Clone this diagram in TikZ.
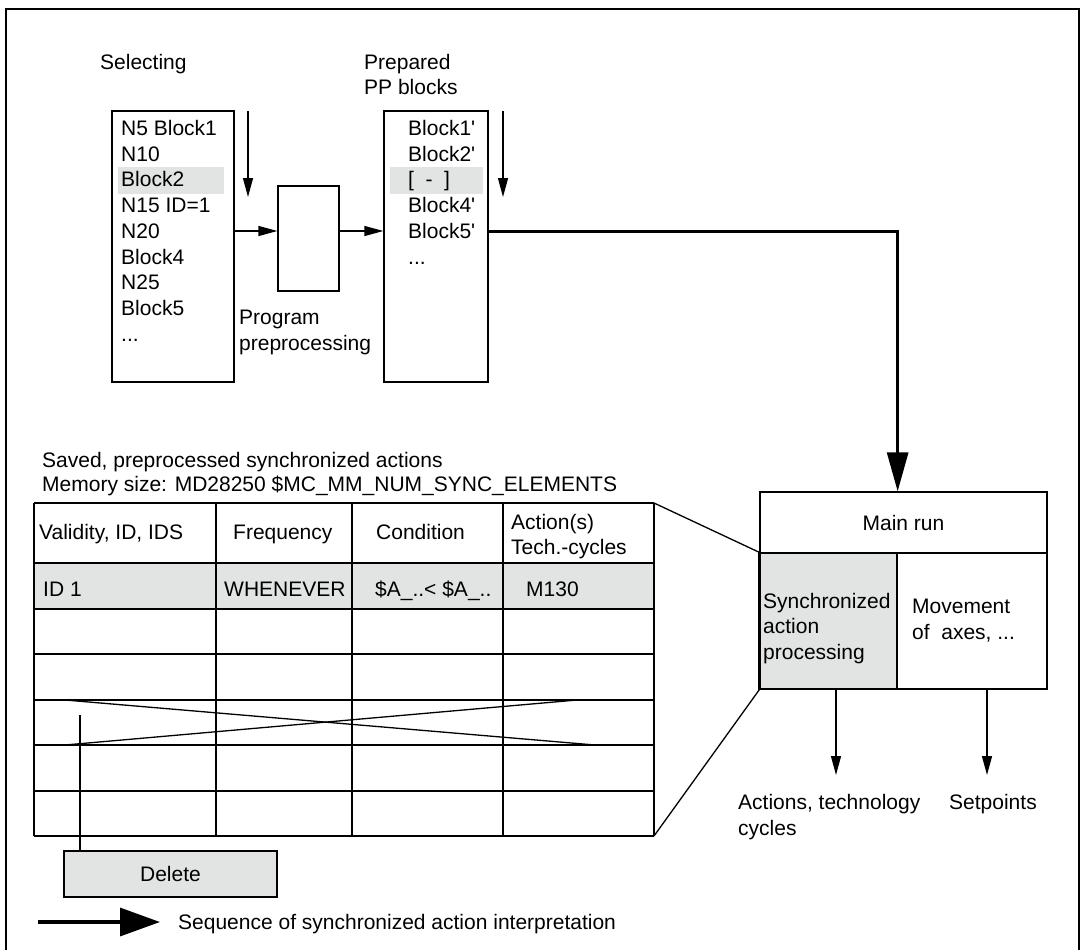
\documentclass[tikz,border=0pt]{standalone}
\usepackage{fontspec}
\setmainfont{Liberation Sans}
\usetikzlibrary{arrows.meta}

\definecolor{cellgray}{RGB}{225,228,227}

\begin{document}
\begin{tikzpicture}[x=1pt, y=-1pt,
    every node/.style={font=\fontsize{21}{25.7}\selectfont, inner sep=0pt},
    txt/.style={anchor=base west},
    box/.style={draw, line width=1.3pt},
    shade/.style={fill=cellgray},
    arr/.style={line width=1.3pt, -{Triangle[length=19pt, width=10pt]}},
    bigarr/.style={line width=3pt, -{Triangle[length=39pt, width=21pt]}}]
  \useasboundingbox (0,0) rectangle (1084,950);

  % outer frame
  \draw[line width=2pt] (6,955) -- (6,9) -- (1079,9) -- (1079,955);

  % program blocks
  % selecting
  \node[txt] (selhead) at (100,69.5) {Selecting};
  \fill[shade] (118,167) rectangle (224,194);
  \node[box, minimum width=122pt, minimum height=271pt] (sel) at (173,246.5) {};
  \foreach \t [count=\i from 0] in {N5 Block1, N10, Block2, N15 ID=1, N20,
      Block4, N25, Block5}
    \node[txt] at (121,135.5+25.7*\i) {\t};
  \node[txt] (seldots) at (121,341.1) {.{}.{}.};

  % preprocessing
  \node[box, minimum width=61pt, minimum height=105pt] (ppbox) at (308.5,238.5) {};
  \node[txt] (pptext1) at (239,324.5) {Program};
  \node[txt] (pptext2) at (239,350.5) {preprocessing};

  % prepared blocks
  \node[txt] (prephead1) at (364,69.5) {Prepared};
  \node[txt] (prephead2) at (364,94.5) {PP blocks};
  \fill[shade] (390,167) rectangle (483,194);
  \node[box, minimum width=104pt, minimum height=271pt] (prep) at (436,246.5) {};
  \foreach \t [count=\i from 0] in {Block1\textquotesingle, Block2\textquotesingle,
      {[\hspace{0.55em}-\hspace{0.55em}]}, Block4\textquotesingle,
      Block5\textquotesingle}
    \node[txt] at (408,135.5+25.7*\i) {\t};
  \node[txt] (prepdots) at (408,264) {.{}.{}.};

  % arrows between the blocks
  \coordinate (flow) at (0,231);
  \draw[arr] (sel.east |- flow) -- (ppbox.west |- flow);
  \draw[arr] (ppbox.east |- flow) -- (prep.west |- flow);
  \coordinate (seltop) at (248,111);
  \coordinate (selbot) at (248,197);
  \draw[arr] (seltop) -- (selbot);
  \coordinate (preptop) at (503,111);
  \coordinate (prepbot) at (503,197);
  \draw[arr] (preptop) -- (prepbot);

  % main run
  \node[box, minimum width=287pt, minimum height=61pt] (mainrun) at (903.5,522.5) {Main run};
  \node[box, shade, minimum width=137pt, minimum height=136pt] (sync) at (828.5,621) {};
  \node[box, minimum width=150pt, minimum height=136pt] (move) at (972,621) {};
  \draw[line width=2.5pt] (sync.north west) -- (sync.south west);
  \node[txt] (synctext1) at (763,608.5) {Synchronized};
  \node[txt] (synctext2) at (763,633.5) {action};
  \node[txt] (synctext3) at (763,659.5) {processing};
  \node[txt] (movetext1) at (912,613.5) {Movement};
  \node[txt] (movetext2) at (912,639.5) {of~ axes, .{}.{}.};
  \draw[bigarr] (prep.east |- flow) -| (sync.east |- mainrun.north);

  % outputs
  \coordinate (actend) at (836,775);
  \coordinate (setend) at (987,775);
  \draw[arr] (sync.south -| actend) -- (actend);
  \draw[arr] (move.south -| setend) -- (setend);
  \node[txt] (acttext1) at (738,809.5) {Actions, technology};
  \node[txt] (acttext2) at (738,835.5) {cycles};
  \node[txt] (settext) at (949,809.5) {Setpoints};

  % table of saved actions
  \node[txt] (savedtext1) at (42,467.5) {Saved, preprocessed synchronized actions};
  \node[txt] (savedtext2) at (42,491.5) {Memory size: MD28250 \$MC\_MM\_NUM\_SYNC\_ELEMENTS};
  \fill[shade] (34,563) rectangle (654,609);
  \foreach \y in {503,563,609,654,700,745,791,836}
    \draw[line width=1.5pt] (34,\y) -- (654,\y);
  \foreach \x in {34,216,352,503,654}
    \draw[line width=1.5pt] (\x,503) -- (\x,836);
  \node[txt] (colvalid) at (39,539.5) {Validity, ID, IDS};
  \node[txt] (colfreq) at (233,539.5) {Frequency};
  \node[txt] (colcond) at (376,539.5) {Condition};
  \node[txt] (colact1) at (511,529.5) {Action(s)};
  \node[txt] (colact2) at (511,554.5) {Tech.-cycles};
  \node[txt] (rowid) at (43,596.5) {ID 1};
  \node[txt] (rowfreq) at (224,596.5) {WHENEVER};
  \node[txt] (rowcond) at (375,596.5) {\$A\_..< \$A\_..};
  \node[txt] (rowact) at (526,596.5) {M130};
  % deleted entry
  \draw[line width=1.3pt] (65,700) -- (595,745);
  \draw[line width=1.3pt] (65,745) -- (577,700);

  % zoom lines to main run
  \coordinate (tabtop) at (654,503);
  \coordinate (tabbot) at (654,836);
  \draw[line width=1.3pt] (tabtop) -- (sync.north west);
  \draw[line width=1.3pt] (tabbot) -- (sync.south west);

  % delete
  \node[box, shade, minimum width=213pt, minimum height=46pt] (delete) at (170.5,874) {Delete};
  \coordinate (delline) at (80,715);
  \draw[line width=1.3pt] (delline) -- (delete.north -| delline);

  % legend
  \coordinate (legstart) at (38,922);
  \coordinate (legend) at (160,922);
  \draw[line width=3.5pt, -{Triangle[length=40pt, width=28pt]}] (legstart) -- (legend);
  \node[txt] (legtext) at (178,929.5) {Sequence of synchronized action interpretation};
\end{tikzpicture}
\end{document}
